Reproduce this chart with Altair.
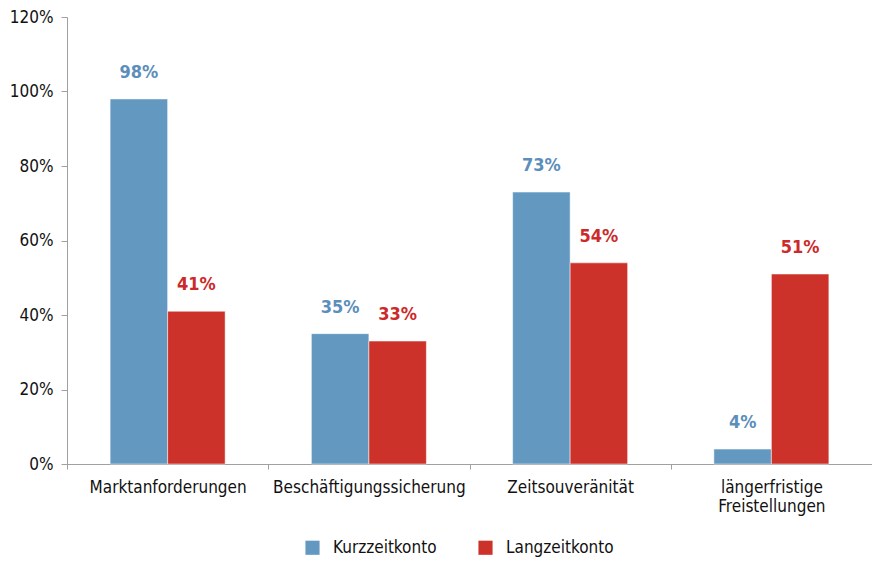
import altair as alt
import pandas as pd

categories = ["Marktanforderungen", "Beschäftigungssicherung", "Zeitsouveränität", "längerfristige Freistellungen"]
kurzzeit = [98, 35, 73, 4]
langzeit = [41, 33, 54, 51]
series = ["Kurzzeitkonto", "Langzeitkonto"]
colors = ["#6399C0", "#CC3229"]
label_colors = ["#5B8EBB", "#CC2A2A"]

rows = []
for i, c in enumerate(categories):
    rows.append({"cat": c, "series": series[0], "value": kurzzeit[i]})
    rows.append({"cat": c, "series": series[1], "value": langzeit[i]})
df = pd.DataFrame(rows)

FONT = "DejaVu Sans Condensed, Liberation Sans Narrow, sans-serif"

x = alt.X("cat:N", sort=categories, title=None,
          scale=alt.Scale(paddingInner=0, paddingOuter=0),
          axis=alt.Axis(labelAngle=0, tickBand="extent", labelFontSize=17, labelFont=FONT,
                        labelColor="#111", domainColor="#A0A0A0", tickColor="#A0A0A0",
                        tickSize=5, labelPadding=10, labelLimit=0,
                        labelExpr="datum.value == 'längerfristige Freistellungen' ? ['längerfristige', 'Freistellungen'] : datum.value"))
xo = alt.XOffset("series:N", sort=series, scale=alt.Scale(paddingOuter=0.75, paddingInner=0))
y = alt.Y("value:Q", title=None,
          scale=alt.Scale(domain=[0, 120], nice=False),
          axis=alt.Axis(values=[0, 20, 40, 60, 80, 100, 120], format=".0f",
                        labelExpr="datum.value + '%'", grid=False,
                        labelFontSize=17, labelFont=FONT, labelColor="#111",
                        domainColor="#A0A0A0", tickColor="#A0A0A0", tickSize=6, labelPadding=8))

base = alt.Chart(df)
bars = base.mark_bar(stroke="white", strokeWidth=0.5).encode(
    x=x, xOffset=xo, y=y,
    color=alt.Color("series:N", sort=series, scale=alt.Scale(domain=series, range=colors),
                    legend=alt.Legend(title=None, orient="none", legendX=237, legendY=522,
                                      direction="horizontal",
                                      symbolType="square", symbolSize=200, labelFontSize=17,
                                      labelFont=FONT, labelColor="#111", columnPadding=40,
                                      labelOffset=12, symbolStrokeWidth=0)))
text = base.mark_text(dy=-17, fontSize=18, fontWeight="bold", font=FONT, baseline="bottom").encode(
    x=x, xOffset=xo, y=y,
    text=alt.Text("label:N"),
    color=alt.Color("series:N", sort=series, scale=alt.Scale(domain=series, range=label_colors), legend=None)
).transform_calculate(label="datum.value + '%'")

chart = alt.layer(bars, text).resolve_scale(color="independent").properties(
    width=805, height=447,
    autosize=alt.AutoSizeParams(type="none"),
    padding={"left": 59, "top": 9, "right": 0, "bottom": 93},
).configure_view(stroke=None)

chart.save("out.html", embed_options={"renderer": "svg", "actions": False})
